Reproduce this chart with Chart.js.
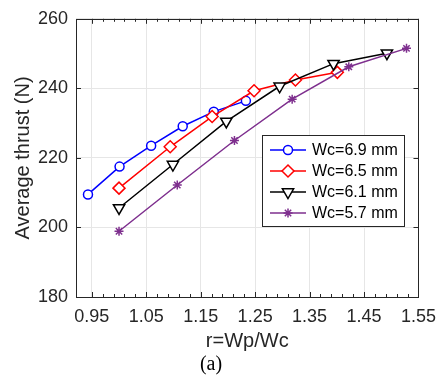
<!DOCTYPE html>
<html>
<head>
<meta charset="utf-8">
<script src="https://cdn.jsdelivr.net/npm/chart.js@4.4.1/dist/chart.umd.min.js"></script>
<style>
  html, body { margin: 0; padding: 0; background: #fff; }
  #wrap { width: 445px; height: 379px; }
</style>
</head>
<body>
<div id="wrap"><canvas id="c" width="445" height="379"></canvas></div>
<script>
// valeurs
const seriesNames = ["Wc=6.9 mm", "Wc=6.5 mm", "Wc=6.1 mm", "Wc=5.7 mm"];
const r69 = [0.943, 1.001, 1.059, 1.117, 1.174, 1.233];
const t69 = [209.5, 217.5, 223.5, 229.1, 233.3, 236.4];
const r65 = [1.0, 1.094, 1.171, 1.248, 1.324, 1.401];
const t65 = [211.3, 223.2, 231.9, 239.3, 242.4, 244.6];
const r61 = [1.0, 1.099, 1.197, 1.295, 1.394, 1.492];
const t61 = [205.6, 218.1, 230.5, 240.6, 247.1, 250.1];
const r57 = [1.0, 1.107, 1.212, 1.318, 1.422, 1.528];
const t57 = [198.9, 212.2, 225.0, 236.9, 246.2, 251.5];
const xMajorTicks = [0.95, 1.05, 1.15, 1.25, 1.35, 1.45, 1.55];
const yTicks = [180, 200, 220, 240, 260];

const axisColor = '#262626';
const gridColor = '#e6e6e6';

function pts(xs, ys) {
    return xs.map((x, i) => ({ x: x, y: ys[i] }));
}

const styles = [
    { color: '#0000ff', pointStyle: 'circle', radius: 4.5, rotation: 0 },
    { color: '#ff0000', pointStyle: 'rectRot', radius: 6, rotation: 0 },
    { color: '#000000', pointStyle: 'triangle', radius: 6.5, rotation: 180 },
    { color: '#7e2f8e', pointStyle: 'star', radius: 4.5, rotation: 0 }
];
const allData = [pts(r69, t69), pts(r65, t65), pts(r61, t61), pts(r57, t57)];

const datasets = allData.map((d, i) => ({
    label: seriesNames[i],
    data: d,
    borderColor: styles[i].color,
    backgroundColor: '#ffffff',
    borderWidth: 1.5,
    pointStyle: styles[i].pointStyle,
    pointRadius: styles[i].radius,
    pointRotation: styles[i].rotation,
    pointBorderColor: styles[i].color,
    pointBackgroundColor: i === 3 ? styles[i].color : '#ffffff',
    pointBorderWidth: 1.5,
    fill: false,
    tension: 0,
    order: 4 - i
}));

// ticks mineurs tous les 0.02
const xAllTicks = [];
for (let k = 0; k <= 30; k++) xAllTicks.push(Math.round((0.95 + 0.02 * k) * 1000) / 1000);
function isMajor(v) {
    return xMajorTicks.some(m => Math.abs(m - v) < 1e-6);
}

// cadre, ticks vers l'intérieur et légende
const boxPlugin = {
    id: 'boxPlugin',
    afterDraw(chart) {
        const ctx = chart.ctx;
        const a = chart.chartArea;
        const xs = chart.scales.x, ys = chart.scales.y;
        ctx.save();
        ctx.strokeStyle = axisColor;
        ctx.lineWidth = 1;
        ctx.strokeRect(Math.round(a.left) + 0.5, Math.round(a.top) + 0.5,
            Math.round(a.right - a.left), Math.round(a.bottom - a.top));
        ctx.beginPath();
        xAllTicks.forEach(v => {
            const px = Math.round(xs.getPixelForValue(v)) + 0.5;
            const len = isMajor(v) ? 5 : 3;
            ctx.moveTo(px, a.bottom); ctx.lineTo(px, a.bottom - len);
            ctx.moveTo(px, a.top); ctx.lineTo(px, a.top + len);
        });
        yTicks.forEach(v => {
            const py = Math.round(ys.getPixelForValue(v)) + 0.5;
            ctx.moveTo(a.left, py); ctx.lineTo(a.left + 5, py);
            ctx.moveTo(a.right, py); ctx.lineTo(a.right - 5, py);
        });
        ctx.stroke();

        // légende
        const lx = 262, ly = 135, lw = 142, lh = 91;
        ctx.fillStyle = '#ffffff';
        ctx.fillRect(lx, ly, lw, lh);
        ctx.strokeStyle = axisColor;
        ctx.strokeRect(lx + 0.5, ly + 0.5, lw, lh);
        ctx.font = '16px "Liberation Sans", Arial, sans-serif';
        ctx.textBaseline = 'middle';
        ctx.textAlign = 'left';
        const rowY = [150, 171, 192, 213];
        styles.forEach((s, i) => {
            const y = rowY[i];
            ctx.strokeStyle = s.color;
            ctx.lineWidth = 1.5;
            ctx.beginPath();
            ctx.moveTo(270, y); ctx.lineTo(306, y);
            ctx.stroke();
            ctx.fillStyle = i === 3 ? s.color : '#ffffff';
            Chart.helpers.drawPoint(ctx, {
                pointStyle: s.pointStyle, radius: s.radius,
                rotation: s.rotation, borderWidth: 1.5
            }, 288, y);
            ctx.fillStyle = '#000000';
            ctx.fillText(seriesNames[i], 312, y + 1);
        });
        ctx.restore();
    }
};

new Chart(document.getElementById('c').getContext('2d'), {
    type: 'line',
    data: { datasets: datasets },
    options: {
        responsive: false,
        animation: false,
        layout: { padding: { top: 13, right: 23, left: 0, bottom: 0 } },
        plugins: {
            legend: { display: false },
            tooltip: { enabled: false },
            title: {
                display: true,
                text: '(a)',
                position: 'bottom',
                color: '#000000',
                font: { family: '"Liberation Serif", "Times New Roman", serif', size: 20, weight: 'normal' },
                padding: { top: 0, bottom: 2 }
            }
        },
        scales: {
            x: {
                type: 'linear',
                min: 0.921,
                max: 1.55,
                afterBuildTicks: scale => { scale.ticks = xAllTicks.map(v => ({ value: v })); },
                afterFit: scale => { scale.height = 56; },
                grid: {
                    color: c => (c.tick && isMajor(c.tick.value)) ? gridColor : 'rgba(0,0,0,0)',
                    drawTicks: false,
                    drawBorder: false
                },
                border: { display: false },
                ticks: {
                    autoSkip: false,
                    maxRotation: 0,
                    padding: 9,
                    color: axisColor,
                    font: { family: '"Liberation Sans", Arial, sans-serif', size: 18 },
                    callback: v => isMajor(v) ? v.toFixed(2) : ''
                },
                title: {
                    display: true,
                    text: 'r=Wp/Wc',
                    color: axisColor,
                    font: { family: '"Liberation Sans", Arial, sans-serif', size: 20 },
                    padding: { top: 0, bottom: 0 }
                }
            },
            y: {
                min: 180,
                max: 260,
                afterBuildTicks: scale => { scale.ticks = yTicks.map(v => ({ value: v })); },
                afterFit: scale => { scale.width = 76; },
                grid: { color: gridColor, drawTicks: false },
                border: { display: false },
                ticks: {
                    padding: 8,
                    color: axisColor,
                    font: { family: '"Liberation Sans", Arial, sans-serif', size: 18 }
                },
                title: {
                    display: true,
                    text: 'Average thrust (N)',
                    color: axisColor,
                    font: { family: '"Liberation Sans", Arial, sans-serif', size: 20 },
                    padding: { top: 11, bottom: 0 }
                }
            }
        }
    },
    plugins: [boxPlugin]
});
</script>
</body>
</html>
